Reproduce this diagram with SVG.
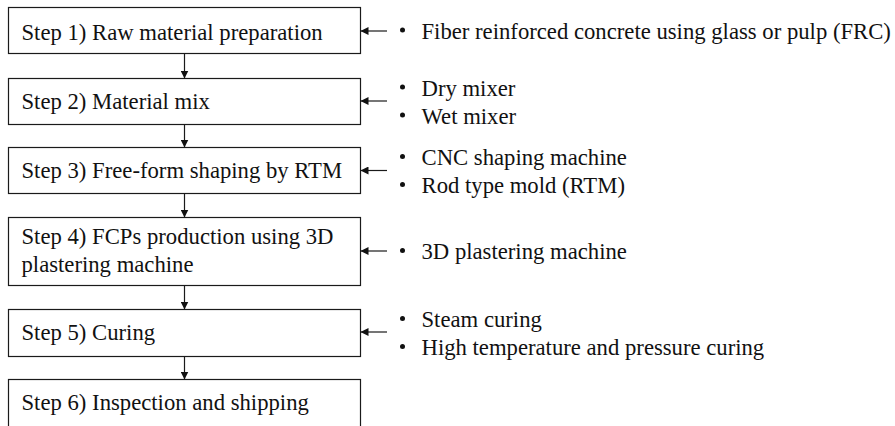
<svg xmlns="http://www.w3.org/2000/svg" width="895" height="426" viewBox="0 0 895 426">
  <defs>
    <style>
      .box { fill: #ffffff; stroke: #1a1a1a; stroke-width: 1.2; }
      .step { font-family: "Liberation Serif", "Times New Roman", serif; font-size: 22.7px; fill: #111111; }
      .note { font-family: "Liberation Serif", "Times New Roman", serif; font-size: 22.7px; fill: #111111; }
      .link { stroke: #1a1a1a; stroke-width: 1.2; fill: none; marker-end: url(#head); }
      .dot { fill: #111111; }
    </style>
    <marker id="head" viewBox="0 0 10 10" refX="10" refY="5" markerWidth="8" markerHeight="8" markerUnits="userSpaceOnUse" orient="auto">
      <path d="M0,0 L10,5 L0,10 Z" fill="#111111"/>
    </marker>
  </defs>
  <rect width="895" height="426" fill="#ffffff"/>

  <!-- process steps -->
  <g id="step1">
    <rect class="box" x="8.5" y="7.5" width="352" height="46"/>
    <text class="step" x="21.5" y="40">Step 1) Raw material preparation</text>
  </g>
  <g id="step2">
    <rect class="box" x="8.5" y="78.5" width="352" height="46"/>
    <text class="step" x="21.5" y="108.5">Step 2) Material mix</text>
  </g>
  <g id="step3">
    <rect class="box" x="8.5" y="147.5" width="352" height="46"/>
    <text class="step" x="21.5" y="178">Step 3) Free-form shaping by RTM</text>
  </g>
  <g id="step4">
    <rect class="box" x="8.5" y="217.5" width="352" height="68"/>
    <text class="step" x="21.5" y="243.5">Step 4) FCPs production using 3D</text>
    <text class="step" x="21.5" y="271.5">plastering machine</text>
  </g>
  <g id="step5">
    <rect class="box" x="8.5" y="309.5" width="352" height="47"/>
    <text class="step" x="21.5" y="340">Step 5) Curing</text>
  </g>
  <g id="step6">
    <rect class="box" x="8.5" y="379.5" width="352" height="60"/>
    <text class="step" x="21.5" y="410">Step 6) Inspection and shipping</text>
  </g>

  <!-- equipment / material notes -->
  <g id="note1">
    <circle class="dot" cx="402.5" cy="30" r="2.5"/>
    <text class="note" x="421.5" y="38.5">Fiber reinforced concrete using glass or pulp (FRC)</text>
  </g>
  <g id="note2">
    <circle class="dot" cx="402.5" cy="87" r="2.5"/>
    <text class="note" x="421.5" y="95.5">Dry mixer</text>
    <circle class="dot" cx="402.5" cy="115" r="2.5"/>
    <text class="note" x="421.5" y="123.5">Wet mixer</text>
  </g>
  <g id="note3">
    <circle class="dot" cx="402.5" cy="156.5" r="2.5"/>
    <text class="note" x="421.5" y="165">CNC shaping machine</text>
    <circle class="dot" cx="402.5" cy="184.5" r="2.5"/>
    <text class="note" x="421.5" y="193">Rod type mold (RTM)</text>
  </g>
  <g id="note4">
    <circle class="dot" cx="402.5" cy="250.5" r="2.5"/>
    <text class="note" x="421.5" y="259">3D plastering machine</text>
  </g>
  <g id="note5">
    <circle class="dot" cx="402.5" cy="318.5" r="2.5"/>
    <text class="note" x="421.5" y="327">Steam curing</text>
    <circle class="dot" cx="402.5" cy="346.5" r="2.5"/>
    <text class="note" x="421.5" y="355">High temperature and pressure curing</text>
  </g>

  <!-- connectors -->
  <g id="connectors">
    <line class="link" x1="184.5" y1="53.5" x2="184.5" y2="78.5"/>
    <line class="link" x1="184.5" y1="124.5" x2="184.5" y2="147.5"/>
    <line class="link" x1="184.5" y1="193.5" x2="184.5" y2="217.5"/>
    <line class="link" x1="184.5" y1="285.5" x2="184.5" y2="309.5"/>
    <line class="link" x1="184.5" y1="356.5" x2="184.5" y2="379.5"/>
    <line class="link" x1="387" y1="31" x2="360.5" y2="31"/>
    <line class="link" x1="387" y1="101" x2="360.5" y2="101"/>
    <line class="link" x1="387" y1="170.5" x2="360.5" y2="170.5"/>
    <line class="link" x1="387" y1="251" x2="360.5" y2="251"/>
    <line class="link" x1="387" y1="332" x2="360.5" y2="332"/>
  </g>
</svg>
